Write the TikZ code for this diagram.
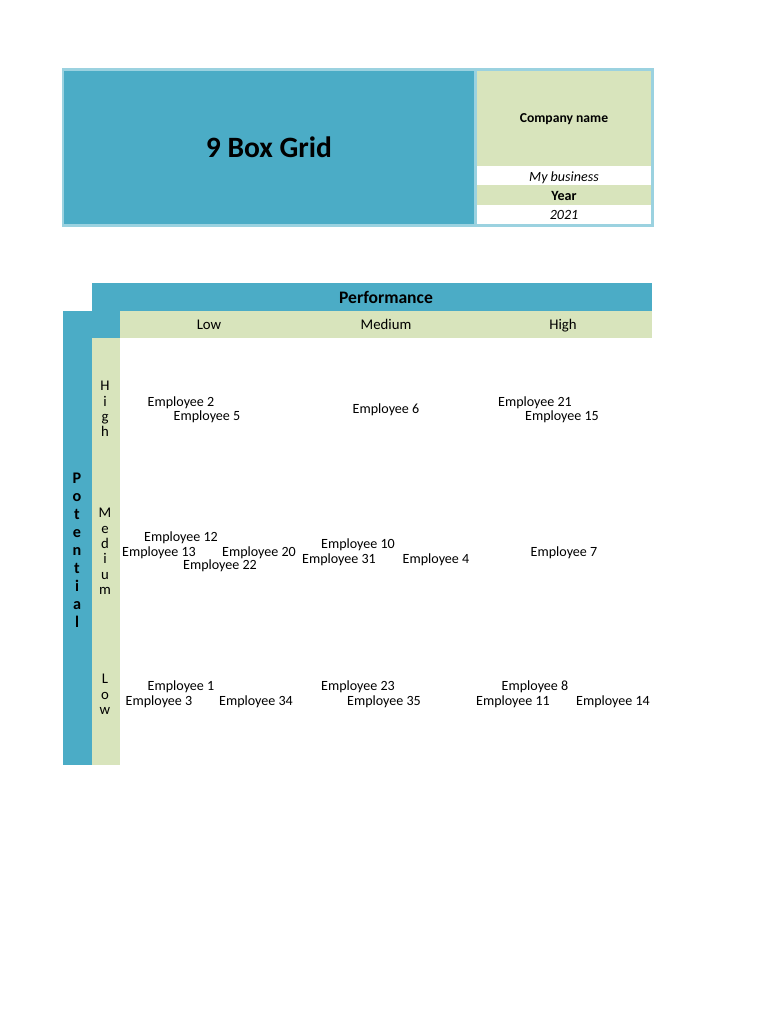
\documentclass[tikz,border=0pt]{standalone}
\usepackage{fontspec}
\setmainfont{Carlito}
\usepackage{tikz}
\usetikzlibrary{positioning}
\usepackage{xcolor}
\definecolor{aqua}{HTML}{4BACC6}
\definecolor{sage}{HTML}{D8E4BC}
\definecolor{rim}{HTML}{9BD2E0}

\begin{document}
\begin{tikzpicture}[x=0.025cm, y=-0.025cm,
        every node/.style = {inner sep=0pt, text height=1.5ex, text depth=.35ex, yshift=-1.5pt},
        emp/.style = {font=\fontsize{10}{12}\selectfont},
        colhead/.style = {font=\fontsize{10.5}{12}\selectfont},
        rowchar/.style = {font=\fontsize{10.5}{12}\selectfont},
        potchar/.style = {font=\bfseries\fontsize{11.5}{12}\selectfont}
        ]
        \useasboundingbox (0,0) rectangle (768,1024);
        \fill[white] (0,0) rectangle (768,1024);
        % header block
        \fill[rim] (62,68) rectangle (654,227);
        \fill[aqua] (64,71) rectangle (474,224);
        \fill[sage] (477,71) rectangle (651,166);
        \fill[white] (477,166) rectangle (651,185);
        \fill[sage] (477,185) rectangle (651,205);
        \fill[white] (477,205) rectangle (651,224);
        \node[font=\bfseries\fontsize{21}{24}\selectfont] (title) at (269,152) {9 Box Grid};
        \node[font=\bfseries\fontsize{9.7}{12}\selectfont] (company) at (564,117) {Company name};
        \node[emp, font=\itshape\fontsize{10}{12}\selectfont] (business) at (564,176) {My business};
        \node[font=\bfseries\fontsize{10}{12}\selectfont] (year) at (564,195) {Year};
        \node[emp, font=\itshape\fontsize{10}{12}\selectfont] (yearval) at (564,214) {2021};
        % grid bands
        \fill[aqua] (92,283) rectangle (652,311);
        \fill[aqua] (63,311) rectangle (120,338);
        \fill[aqua] (63,338) rectangle (92,765);
        \fill[sage] (120,311) rectangle (652,338);
        \fill[sage] (92,338) rectangle (120,765);
        \node[font=\bfseries\fontsize{12.5}{14}\selectfont] (perf) at (386,298) {Performance};
        \node[colhead] (plow) at (209,324) {Low};
        \node[colhead] (pmed) at (386,324) {Medium};
        \node[colhead] (phigh) at (563,324) {High};
        % potential axis
        \foreach \ch [count=\k] in {P,o,t,e,n,t,i,a,l}
            \node[potchar] (pot\k) at (77,{478+17.9*(\k-1)}) {\ch};
        \foreach \ch [count=\k] in {H,i,g,h}
            \node[rowchar] (rh\k) at (105,{385+15.3*(\k-1)}) {\ch};
        \foreach \ch [count=\k] in {M,e,d,i,u,m}
            \node[rowchar] (rm\k) at (105,{512+15.3*(\k-1)}) {\ch};
        \foreach \ch [count=\k] in {L,o,w}
            \node[rowchar] (rl\k) at (105,{678+15.3*(\k-1)}) {\ch};
        % high potential
        \node[emp] (e2) at (181,401) {Employee 2};
        \node[emp] (e5) at (207,415) {Employee 5};
        \node[emp] (e6) at (386,408) {Employee 6};
        \node[emp] (e21) at (535,401) {Employee 21};
        \node[emp] (e15) at (562,415) {Employee 15};
        % medium potential
        \node[emp] (e12) at (181,536) {Employee 12};
        \node[emp] (e13) at (159,551) {Employee 13};
        \node[emp] (e20) at (259,551) {Employee 20};
        \node[emp] (e22) at (220,564) {Employee 22};
        \node[emp] (e10) at (358,543) {Employee 10};
        \node[emp] (e31) at (339,558) {Employee 31};
        \node[emp] (e4) at (436,558) {Employee 4};
        \node[emp] (e7) at (564,551) {Employee 7};
        % low potential
        \node[emp] (e1) at (181,685) {Employee 1};
        \node[emp] (e3) at (159,700) {Employee 3};
        \node[emp] (e34) at (256,700) {Employee 34};
        \node[emp] (e23) at (358,685) {Employee 23};
        \node[emp] (e35) at (384,700) {Employee 35};
        \node[emp] (e8) at (535,685) {Employee 8};
        \node[emp] (e11) at (513,700) {Employee 11};
        \node[emp] (e14) at (613,700) {Employee 14};
\end{tikzpicture}
\end{document}
